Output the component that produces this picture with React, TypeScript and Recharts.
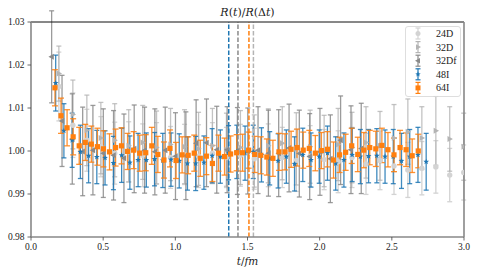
import React from 'react';
import { ScatterChart, Scatter, XAxis, YAxis, ErrorBar, ReferenceLine } from 'recharts';

// ---- data ----
const t24D = [0.193, 0.290, 0.387, 0.484, 0.580, 0.677, 0.774, 0.870, 0.967, 1.064, 1.161, 1.257, 1.354, 1.451, 1.547, 1.644, 1.741, 1.838, 1.934, 2.031, 2.128, 2.224, 2.321, 2.418, 2.515, 2.611, 2.708, 2.805, 2.901, 2.998];
const v24D = [1.0150, 1.0060, 1.0025, 1.0010, 0.9995, 0.9998, 0.9990, 0.9995, 0.9985, 0.9992, 0.9988, 0.9995, 0.9985, 0.9990, 0.9982, 0.9990, 0.9985, 0.9978, 0.9988, 0.9980, 0.9975, 0.9985, 0.9970, 0.9978, 0.9965, 0.9956, 0.9960, 0.9963, 0.9944, 0.9950];
const e24D = [0.0080, 0.0075, 0.0072, 0.0070, 0.0072, 0.0070, 0.0073, 0.0071, 0.0072, 0.0070, 0.0073, 0.0071, 0.0070, 0.0072, 0.0071, 0.0073, 0.0070, 0.0072, 0.0071, 0.0070, 0.0072, 0.0070, 0.0071, 0.0068, 0.0066, 0.0064, 0.0062, 0.0061, 0.0062, 0.0064];

const t32D = [0.193, 0.290, 0.387, 0.484, 0.580, 0.677, 0.774, 0.870, 0.967, 1.064, 1.161, 1.257, 1.354, 1.451, 1.547, 1.644, 1.741, 1.838, 1.934, 2.031, 2.128, 2.224, 2.321, 2.418, 2.515, 2.611, 2.708, 2.805, 2.901, 2.998];
const v32D = [1.0180, 1.0085, 1.0048, 1.0030, 1.0025, 1.0012, 1.0020, 1.0008, 1.0015, 1.0010, 1.0005, 1.0012, 1.0003, 1.0008, 1.0000, 1.0012, 1.0018, 1.0005, 1.0010, 1.0000, 1.0015, 1.0008, 1.0020, 1.0012, 1.0030, 1.0045, 1.0030, 1.0047, 1.0028, 1.0010];
const e32D = [0.0064, 0.0080, 0.0082, 0.0083, 0.0085, 0.0084, 0.0086, 0.0085, 0.0084, 0.0086, 0.0085, 0.0087, 0.0085, 0.0086, 0.0084, 0.0086, 0.0085, 0.0084, 0.0085, 0.0083, 0.0084, 0.0082, 0.0083, 0.0080, 0.0078, 0.0076, 0.0073, 0.0080, 0.0075, 0.0078];

const t32Df = [0.143, 0.215, 0.286, 0.358, 0.429, 0.501, 0.572, 0.644, 0.715, 0.787, 0.858, 0.930, 1.001, 1.073, 1.144, 1.216, 1.287, 1.359, 1.430, 1.502, 1.573, 1.645, 1.716, 1.788, 1.859, 1.931, 2.002, 2.074, 2.145, 2.217, 2.288];
const v32Df = [1.0219, 1.0070, 1.0028, 0.9999, 1.0002, 0.9995, 0.9990, 0.9983, 1.0005, 1.0002, 0.9998, 1.0002, 0.9988, 0.9989, 1.0018, 1.0019, 1.0003, 1.0003, 1.0000, 1.0000, 1.0002, 0.9995, 0.9995, 1.0007, 0.9994, 0.9987, 0.9998, 0.9982, 1.0025, 1.0003, 1.0006];
const e32Df = [0.0107, 0.0106, 0.0105, 0.0103, 0.0104, 0.0103, 0.0104, 0.0103, 0.0102, 0.0100, 0.0100, 0.0100, 0.0101, 0.0102, 0.0101, 0.0102, 0.0101, 0.0100, 0.0101, 0.0100, 0.0101, 0.0100, 0.0101, 0.0102, 0.0101, 0.0100, 0.0101, 0.0102, 0.0103, 0.0102, 0.0105];

const t48I = [0.171, 0.228, 0.285, 0.342, 0.399, 0.456, 0.513, 0.571, 0.628, 0.685, 0.742, 0.799, 0.856, 0.913, 0.970, 1.027, 1.084, 1.141, 1.198, 1.255, 1.312, 1.369, 1.426, 1.483, 1.540, 1.597, 1.654, 1.712, 1.769, 1.826, 1.883, 1.940, 1.997, 2.054, 2.111, 2.168, 2.225, 2.282, 2.339, 2.396, 2.453, 2.510, 2.567, 2.624, 2.681, 2.738];
const v48I = [1.0158, 1.0047, 1.0025, 0.9998, 0.9989, 0.9986, 0.9984, 0.9972, 0.9990, 0.9973, 0.9979, 0.9979, 0.9981, 0.9978, 0.9980, 0.9977, 0.9971, 0.9971, 0.9973, 0.9989, 0.9987, 0.9996, 0.9998, 0.9995, 0.9998, 0.9991, 0.9983, 0.9977, 0.9987, 0.9970, 0.9991, 0.9979, 0.9987, 0.9995, 0.9971, 0.9979, 0.9991, 0.9987, 0.9988, 0.9989, 0.9987, 0.9987, 0.9977, 0.9987, 0.9991, 0.9975];
const e48I = [0.0065, 0.0063, 0.0063, 0.0062, 0.0063, 0.0062, 0.0063, 0.0062, 0.0063, 0.0062, 0.0062, 0.0063, 0.0062, 0.0063, 0.0062, 0.0063, 0.0062, 0.0063, 0.0062, 0.0063, 0.0062, 0.0063, 0.0062, 0.0063, 0.0062, 0.0063, 0.0062, 0.0063, 0.0062, 0.0063, 0.0062, 0.0063, 0.0062, 0.0063, 0.0062, 0.0063, 0.0062, 0.0063, 0.0062, 0.0063, 0.0062, 0.0063, 0.0064, 0.0063, 0.0064, 0.0066];

const t64I = [0.166, 0.208, 0.250, 0.292, 0.334, 0.376, 0.418, 0.460, 0.502, 0.544, 0.586, 0.627, 0.669, 0.711, 0.753, 0.795, 0.837, 0.879, 0.921, 0.963, 1.005, 1.047, 1.089, 1.131, 1.173, 1.215, 1.257, 1.299, 1.341, 1.383, 1.425, 1.466, 1.508, 1.550, 1.592, 1.634, 1.676, 1.718, 1.760, 1.802, 1.844, 1.886, 1.928, 1.970, 2.012, 2.054, 2.096, 2.138, 2.180, 2.222, 2.264, 2.306, 2.347, 2.389, 2.431, 2.473, 2.515, 2.557, 2.599, 2.641, 2.683];
const v64I = [1.0147, 1.0082, 1.0054, 1.0033, 1.0012, 1.0020, 1.0016, 1.0010, 1.0005, 0.9998, 1.0008, 1.0012, 0.9999, 1.0002, 0.9995, 0.9996, 1.0012, 0.9992, 0.9979, 1.0006, 0.9978, 0.9991, 0.9990, 0.9995, 0.9983, 0.9988, 0.9971, 0.9995, 0.9987, 0.9993, 0.9996, 0.9996, 1.0002, 0.9992, 0.9990, 0.9986, 0.9983, 0.9998, 0.9998, 1.0004, 1.0008, 1.0002, 1.0006, 0.9995, 1.0001, 1.0004, 0.9979, 0.9991, 0.9997, 1.0012, 0.9992, 1.0002, 1.0008, 1.0005, 1.0013, 1.0003, 0.9991, 1.0008, 1.0003, 0.9989, 1.0000];
const e64I = [0.0042, 0.0041, 0.0042, 0.0042, 0.0043, 0.0042, 0.0042, 0.0043, 0.0042, 0.0042, 0.0043, 0.0042, 0.0042, 0.0043, 0.0042, 0.0042, 0.0043, 0.0042, 0.0042, 0.0043, 0.0042, 0.0042, 0.0043, 0.0042, 0.0042, 0.0043, 0.0042, 0.0042, 0.0043, 0.0042, 0.0042, 0.0043, 0.0042, 0.0042, 0.0043, 0.0042, 0.0042, 0.0043, 0.0042, 0.0042, 0.0043, 0.0042, 0.0042, 0.0041, 0.0042, 0.0041, 0.0042, 0.0041, 0.0042, 0.0041, 0.0040, 0.0041, 0.0040, 0.0041, 0.0040, 0.0040, 0.0039, 0.0040, 0.0039, 0.0039, 0.0039];

const xTicks = [0, 0.5, 1, 1.5, 2, 2.5, 3];
const yTicks = [0.98, 0.99, 1.0, 1.01, 1.02, 1.03];

// plateau markers
const vlineX = [1.370, 1.434, 1.510, 1.541];
const seriesNames = ['24D', '32D', '32Df', '48I', '64I'];

const C24 = '#d3d3d3';
const C32 = '#b4b4b4';
const C32f = '#8a8a8a';
const CB = '#1f77b4';
const CO = '#ff7f0e';
const vlineColors = [CB, C32f, CO, C32];

const build = (t: number[], v: number[], e: number[]) => t.map((x, i) => ({ x, y: v[i], e: e[i] }));
const d24D = build(t24D, v24D, e24D);
const d32D = build(t32D, v32D, e32D);
const d32Df = build(t32Df, v32Df, e32Df);
const d48I = build(t48I, v48I, e48I);
const d64I = build(t64I, v64I, e64I);

// ---- marker shapes ----
const circleShape = (color: string) => (p: any) => <circle cx={p.cx} cy={p.cy} r={2.7} fill={color} />;
const triRight = (color: string) => (p: any) => (
  <polygon points={`${p.cx + 3.2},${p.cy} ${p.cx - 2.2},${p.cy - 3} ${p.cx - 2.2},${p.cy + 3}`} fill={color} />
);
const triLeft = (color: string) => (p: any) => (
  <polygon points={`${p.cx - 3.2},${p.cy} ${p.cx + 2.2},${p.cy - 3} ${p.cx + 2.2},${p.cy + 3}`} fill={color} />
);
const starPts = (cx: number, cy: number, ro: number, ri: number) => {
  const pts: string[] = [];
  for (let i = 0; i < 10; i++) {
    const r = i % 2 === 0 ? ro : ri;
    const a = (-90 + i * 36) * Math.PI / 180;
    pts.push(`${cx + r * Math.cos(a)},${cy + r * Math.sin(a)}`);
  }
  return pts.join(' ');
};
const starShape = (color: string) => (p: any) => <polygon points={starPts(p.cx, p.cy, 3, 1.3)} fill={color} />;
const squareShape = (color: string) => (p: any) => (
  <rect x={p.cx - 2.6} y={p.cy - 2.6} width={5.2} height={5.2} fill={color} />
);

const serif = "'Liberation Serif', 'DejaVu Serif', serif";
const mathFont = "'DejaVu Serif', serif";

const legendIcons = [
  { color: C24, marker: (cx: number, cy: number) => <circle cx={cx} cy={cy} r={2.5} fill={C24} /> },
  { color: C32, marker: (cx: number, cy: number) => <polygon points={`${cx + 3},${cy} ${cx - 2},${cy - 2.8} ${cx - 2},${cy + 2.8}`} fill={C32} /> },
  { color: C32f, marker: (cx: number, cy: number) => <polygon points={`${cx - 3},${cy} ${cx + 2},${cy - 2.8} ${cx + 2},${cy + 2.8}`} fill={C32f} /> },
  { color: CB, marker: (cx: number, cy: number) => <polygon points={starPts(cx, cy, 2.8, 1.2)} fill={CB} /> },
  { color: CO, marker: (cx: number, cy: number) => <rect x={cx - 2.5} y={cy - 2.5} width={5} height={5} fill={CO} /> },
];

const tickStyle = { fontSize: 9.5, fontFamily: serif, fill: '#222', style: { fontFamily: serif } };

export default function App() {
  return (
    <div style={{ position: 'absolute', left: 0, top: 0, width: 478, height: 273, background: '#fff', fontFamily: serif }}>
      <ScatterChart width={478} height={273} margin={{ top: 22, right: 14, bottom: 0, left: 0 }} style={{ fontFamily: serif }}>
        <XAxis
          type="number"
          dataKey="x"
          domain={[0, 3]}
          ticks={xTicks}
          allowDataOverflow
          height={36}
          tickFormatter={(v: number) => v.toFixed(1)}
          tick={tickStyle}
          tickSize={3.5}
          tickMargin={3}
          tickLine={{ stroke: '#444', strokeWidth: 0.8 }}
          axisLine={{ stroke: '#888', strokeWidth: 1.6 }}
        />
        <YAxis
          type="number"
          dataKey="y"
          domain={[0.98, 1.03]}
          ticks={yTicks}
          allowDataOverflow
          width={31}
          tickFormatter={(v: number) => v.toFixed(2)}
          tick={tickStyle}
          tickSize={3.5}
          tickMargin={3}
          tickLine={{ stroke: '#444', strokeWidth: 0.8 }}
          axisLine={{ stroke: '#888', strokeWidth: 1.6 }}
        />
        <Scatter name="24D" data={d24D} fill={C24} shape={circleShape(C24)} isAnimationActive={false}>
          <ErrorBar dataKey="e" direction="y" width={2.5} stroke={C24} strokeWidth={1.3} isAnimationActive={false} />
        </Scatter>
        <Scatter name="32D" data={d32D} fill={C32} shape={triRight(C32)} isAnimationActive={false}>
          <ErrorBar dataKey="e" direction="y" width={2.5} stroke={C32} strokeWidth={1.3} strokeOpacity={0.8} isAnimationActive={false} />
        </Scatter>
        <Scatter name="32Df" data={d32Df} fill={C32f} shape={triLeft(C32f)} isAnimationActive={false}>
          <ErrorBar dataKey="e" direction="y" width={2.5} stroke={C32f} strokeWidth={1.3} strokeOpacity={0.85} isAnimationActive={false} />
        </Scatter>
        <Scatter name="48I" data={d48I} fill={CB} shape={starShape(CB)} isAnimationActive={false}>
          <ErrorBar dataKey="e" direction="y" width={2.5} stroke={CB} strokeWidth={1.3} strokeOpacity={0.85} isAnimationActive={false} />
        </Scatter>
        <Scatter name="64I" data={d64I} fill={CO} shape={squareShape(CO)} isAnimationActive={false}>
          <ErrorBar dataKey="e" direction="y" width={3} stroke={CO} strokeWidth={1.3} strokeOpacity={0.85} isAnimationActive={false} />
        </Scatter>
        {vlineX.map((x, i) => (
          <ReferenceLine key={i} x={x} stroke={vlineColors[i]} strokeWidth={1.5} strokeDasharray="4.5 2" />
        ))}
        <ReferenceLine y={1.03} stroke="#111" strokeWidth={1} />
        <ReferenceLine x={3} stroke="#888" strokeWidth={1.6} />
      </ScatterChart>
      <svg width={478} height={273} style={{ position: 'absolute', left: 0, top: 0, pointerEvents: 'none' }}>
        <text x={247.5} y={15.5} textAnchor="middle" style={{ fontFamily: mathFont, fontSize: 11 }} fill="#222">
          <tspan fontStyle="italic">R</tspan>(<tspan fontStyle="italic">t</tspan>)/<tspan fontStyle="italic">R</tspan>(Δ<tspan fontStyle="italic">t</tspan>)
        </text>
        <text x={247.5} y={265} textAnchor="middle" style={{ fontFamily: mathFont, fontSize: 10.5 }} fill="#222">
          <tspan fontStyle="italic">t</tspan>/<tspan fontStyle="italic">fm</tspan>
        </text>
        <rect x={405.5} y={26.5} width={55} height={70} rx={2.5} fill="#fff" fillOpacity={0.85} stroke="#d6d6d6" strokeWidth={0.8} />
        {seriesNames.map((name, i) => {
          const cy = 33.5 + i * 13.6;
          const ic = legendIcons[i];
          return (
            <g key={name}>
              <line x1={418} x2={418} y1={cy - 5.5} y2={cy + 5.5} stroke={ic.color} strokeWidth={1.2} />
              <line x1={415.5} x2={420.5} y1={cy - 5.5} y2={cy - 5.5} stroke={ic.color} strokeWidth={1.2} />
              <line x1={415.5} x2={420.5} y1={cy + 5.5} y2={cy + 5.5} stroke={ic.color} strokeWidth={1.2} />
              {ic.marker(418, cy)}
              <text x={436} y={cy + 3.4} style={{ fontFamily: serif, fontSize: 10 }} fill="#222">{name}</text>
            </g>
          );
        })}
      </svg>
    </div>
  );
}
